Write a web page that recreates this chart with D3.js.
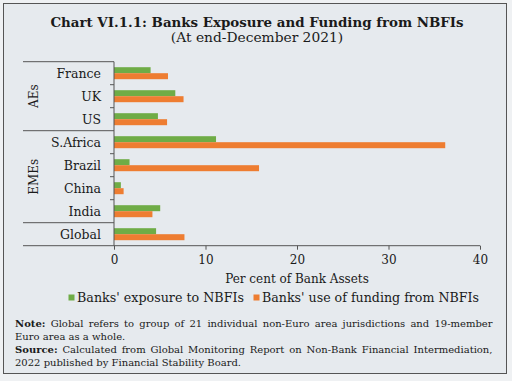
<!DOCTYPE html>
<html><head><meta charset="utf-8">
<script src="https://cdn.jsdelivr.net/npm/d3@7"></script>
<style>
html,body{margin:0;padding:0;background:#eff1f3;}
svg{display:block;}
text{font-family:"DejaVu Serif",serif;fill:#1a1a1a;}
</style></head>
<body>
<svg id="chart" width="512" height="381"></svg>
<script>
const categories = ["France","UK","US","S.Africa","Brazil","China","India","Global"];
const groups = [{name:"AEs", members:["France","UK","US"]},{name:"EMEs", members:["S.Africa","Brazil","China","India"]},{name:"", members:["Global"]}];
const exposure = [4.0, 6.7, 4.8, 11.15, 1.7, 0.75, 5.05, 4.6];
const funding  = [5.9, 7.6, 5.8, 36.2, 15.85, 1.05, 4.2, 7.7];
const seriesNames = ["Banks' exposure to NBFIs","Banks' use of funding from NBFIs"];
const xTicks = [0,10,20,30,40];
const colors = ["#6fac46","#ee7d31"];

const svg = d3.select("#chart");
svg.append("rect").attr("x",3.5).attr("y",3.5).attr("width",503).attr("height",370)
  .attr("fill","#e6eaee").attr("stroke","#555").attr("stroke-width",1);

svg.append("text").attr("x",257).attr("y",26.5).attr("text-anchor","middle")
  .attr("font-weight","bold").attr("font-size",13.4).attr("class","title")
  .text("Chart VI.1.1: Banks Exposure and Funding from NBFIs");
svg.append("text").attr("x",257).attr("y",41.5).attr("text-anchor","middle")
  .attr("font-size",13.8).text("(At end-December 2021)");

const pL=114, pR=480, pT=61.7, pB=245.7;
const x = d3.scaleLinear().domain([0,40]).range([pL,pR]);
const y = d3.scaleBand().domain(categories).range([pT,pB]);
const inner = d3.scaleBand().domain([0,1]).range([0,12]);
const barOffset = (y.bandwidth()-12)/2;

const g = svg.append("g");
categories.forEach((c,i)=>{
  [exposure[i],funding[i]].forEach((v,k)=>{
    g.append("rect").attr("x",x(0)).attr("y",y(c)+barOffset+inner(k))
      .attr("width",x(v)-x(0)).attr("height",inner.bandwidth()).attr("fill",colors[k]);
  });
});

// x axis
const xa = svg.append("g").attr("transform",`translate(0,${pB})`)
  .call(d3.axisBottom(x).tickValues(xTicks).tickSize(4).tickPadding(6));
xa.select(".domain").remove();
xa.selectAll("line").attr("stroke","#555");
xa.selectAll("text").attr("font-size",12).attr("font-family","DejaVu Serif").attr("fill","#1a1a1a");
svg.append("line").attr("x1",23).attr("x2",pR).attr("y1",pB).attr("y2",pB).attr("stroke","#555");

// y axis
svg.append("line").attr("x1",pL).attr("x2",pL).attr("y1",pT).attr("y2",pB).attr("stroke","#555");
const boundaries = categories.slice(1).map(c=>y(c));
let groupStarts=[pT]; let acc=0;
groups.forEach(gr=>{acc+=gr.members.length; groupStarts.push(y(categories[acc-1])+y.bandwidth());});
boundaries.forEach(b=>{
  const isGroup = groupStarts.some(s=>Math.abs(s-b)<0.5);
  svg.append("line").attr("x1",isGroup?23:pL-4).attr("x2",pL).attr("y1",b).attr("y2",b).attr("stroke","#555");
});
svg.append("line").attr("x1",23).attr("x2",pL).attr("y1",pT).attr("y2",pT).attr("stroke","#555");

categories.forEach(c=>{
  svg.append("text").attr("x",101).attr("y",y(c)+y.bandwidth()/2).attr("dy","0.36em")
    .attr("text-anchor","end").attr("font-size",12.5).text(c);
});
groups.forEach(gr=>{
  if(!gr.name) return;
  const y0=y(gr.members[0]), y1=y(gr.members[gr.members.length-1])+y.bandwidth();
  svg.append("text").attr("transform",`translate(38,${(y0+y1)/2}) rotate(-90)`)
    .attr("text-anchor","middle").attr("font-size",12).text(gr.name);
});

svg.append("text").attr("x",(pL+pR)/2).attr("y",283).attr("text-anchor","middle")
  .attr("font-size",12).text("Per cent of Bank Assets");

// legend
const leg = [{sx:68.5,tx:77,w:167},{sx:253.5,tx:262,w:217}];
seriesNames.forEach((n,k)=>{
  svg.append("rect").attr("x",leg[k].sx).attr("y",294.5).attr("width",6).attr("height",6).attr("fill",colors[k]);
  svg.append("text").attr("x",leg[k].tx).attr("y",301.5).attr("font-size",13)
    .attr("textLength",leg[k].w).attr("lengthAdjust","spacingAndGlyphs").text(n);
});

// notes
const noteLines = [
  {b:"Note:", t:" Global refers to group of 21 individual non-Euro area jurisdictions and 19-member", just:true, y:327},
  {b:"", t:"Euro area as a whole.", just:false, y:340},
  {b:"Source:", t:" Calculated from Global Monitoring Report on Non-Bank Financial Intermediation,", just:true, y:353},
  {b:"", t:"2022 published by Financial Stability Board.", just:false, y:366}
];
noteLines.forEach(l=>{
  const t = svg.append("text").attr("x",15).attr("y",l.y).attr("font-size",10);
  if(l.b) t.append("tspan").attr("font-weight","bold").text(l.b);
  t.append("tspan").text(l.t);
  if(l.just){
    const w = t.node().getComputedTextLength();
    const spaces = (l.b+l.t).split(" ").length-1;
    const extra = (492.5-15-w)/spaces;
    t.style("word-spacing", extra+"px");
  }
});
</script>
</body></html>
